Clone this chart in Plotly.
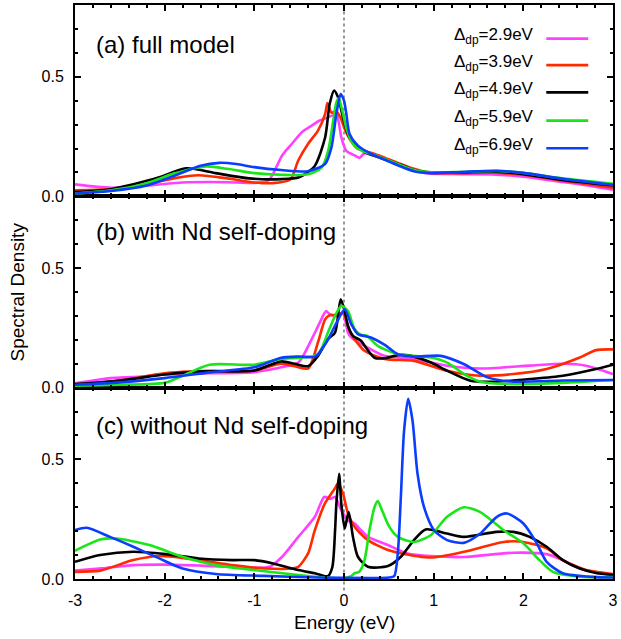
import plotly.graph_objects as go

# Charge-transfer energies for the five curves
DELTA_DP = ["2.9", "3.9", "4.9", "5.9", "6.9"]
COLORS = ["#FF40FF", "#FF2A00", "#000000", "#18E618", "#0B3DFF"]

ENERGY_TICKS = [-3, -2, -1, 0, 1, 2, 3]
ENERGY_TICK_TEXT = ["-3", "-2", "-1", "0", "1", "2", "3"]
DENSITY_TICKS = [0.0, 0.5]
DENSITY_TICK_TEXT = ["0.0", "0.5"]

PANEL_TITLES = ["(a) full model", "(b) with Nd self-doping", "(c) without Nd self-doping"]

# ---------------- (a) full model ----------------
full_e_29 = [-3.0, -2.6, -2.2, -1.8, -1.5, -1.2, -1.0, -0.84, -0.69, -0.58, -0.47, -0.36, -0.27, -0.18, -0.085,
             -0.03, 0.026, 0.118, 0.173, 0.22, 0.3, 0.41, 0.6, 0.78, 0.97, 1.3, 1.65, 2.0, 2.44, 2.7, 3.0]
full_s_29 = [0.05, 0.036, 0.045, 0.058, 0.06, 0.058, 0.056, 0.067, 0.171, 0.22, 0.268, 0.296, 0.317, 0.33, 0.342,
             0.247, 0.19, 0.171, 0.161, 0.178, 0.178, 0.162, 0.133, 0.107, 0.095, 0.093, 0.092, 0.082, 0.06, 0.046, 0.028]

full_e_39 = [-3.0, -2.6, -2.2, -1.9, -1.62, -1.3, -1.0, -0.8, -0.6, -0.51, -0.4, -0.29, -0.21, -0.185, -0.14,
             -0.085, -0.04, 0.01, 0.08, 0.15, 0.3, 0.41, 0.6, 0.78, 0.97, 1.3, 1.65, 2.0, 2.44, 3.0]
full_s_39 = [0.025, 0.03, 0.05, 0.075, 0.088, 0.075, 0.058, 0.055, 0.07, 0.15, 0.22, 0.275, 0.345, 0.39, 0.35,
             0.355, 0.33, 0.28, 0.23, 0.2, 0.182, 0.168, 0.14, 0.115, 0.098, 0.097, 0.099, 0.09, 0.065, 0.036]

full_e_49 = [-3.0, -2.6, -2.2, -2.06, -1.76, -1.43, -1.06, -0.7, -0.5, -0.33, -0.21, -0.16, -0.11, -0.066,
             -0.011, 0.044, 0.118, 0.23, 0.41, 0.6, 0.78, 0.97, 1.3, 1.65, 2.0, 2.44, 3.0]
full_s_49 = [0.018, 0.03, 0.065, 0.08, 0.117, 0.097, 0.075, 0.072, 0.08, 0.125, 0.247, 0.386, 0.442, 0.414,
             0.33, 0.26, 0.22, 0.185, 0.16, 0.136, 0.11, 0.1, 0.1, 0.104, 0.093, 0.068, 0.045]

full_e_59 = [-3.0, -2.6, -2.2, -1.9, -1.54, -1.3, -1.0, -0.7, -0.4, -0.25, -0.177, -0.12, -0.085, -0.059,
             -0.02, 0.03, 0.1, 0.2, 0.3, 0.41, 0.6, 0.78, 0.97, 1.3, 1.7, 2.0, 2.44, 3.0]
full_s_59 = [0.012, 0.025, 0.055, 0.095, 0.125, 0.115, 0.097, 0.09, 0.092, 0.12, 0.19, 0.317, 0.393, 0.41,
             0.36, 0.28, 0.22, 0.19, 0.178, 0.163, 0.135, 0.11, 0.1, 0.102, 0.106, 0.098, 0.075, 0.052]

full_e_69 = [-3.0, -2.6, -2.2, -1.9, -1.6, -1.39, -1.2, -1.0, -0.7, -0.4, -0.21, -0.14, -0.085, -0.037,
             0.0, 0.026, 0.063, 0.155, 0.3, 0.41, 0.6, 0.78, 0.97, 1.3, 1.7, 2.0, 2.44, 3.0]
full_s_69 = [0.012, 0.022, 0.045, 0.085, 0.128, 0.14, 0.135, 0.122, 0.11, 0.105, 0.136, 0.205, 0.345, 0.428,
             0.4, 0.345, 0.26, 0.212, 0.178, 0.16, 0.13, 0.105, 0.097, 0.102, 0.107, 0.098, 0.073, 0.048]

# ---------------- (b) with Nd self-doping ----------------
with_e_29 = [-3.0, -2.8, -2.6, -2.3, -2.0, -1.5, -1.0, -0.7, -0.51, -0.36, -0.27, -0.2, -0.16, -0.07, -0.01,
             0.044, 0.081, 0.155, 0.23, 0.45, 0.78, 1.15, 1.52, 2.07, 2.44, 2.7, 3.0]
with_s_29 = [0.018, 0.03, 0.04, 0.045, 0.055, 0.06, 0.065, 0.085, 0.105, 0.203, 0.272, 0.32, 0.307, 0.3, 0.31,
             0.23, 0.21, 0.19, 0.175, 0.133, 0.12, 0.092, 0.08, 0.092, 0.1, 0.092, 0.057]

with_e_39 = [-3.0, -2.5, -2.0, -1.5, -1.0, -0.7, -0.55, -0.4, -0.29, -0.21, -0.16, -0.07, -0.01, 0.044,
             0.081, 0.229, 0.45, 0.78, 1.15, 1.52, 1.89, 2.26, 2.63, 2.81, 3.0]
with_s_39 = [0.012, 0.03, 0.06, 0.07, 0.072, 0.1, 0.09, 0.08, 0.19, 0.286, 0.303, 0.303, 0.314, 0.26,
             0.224, 0.154, 0.12, 0.112, 0.071, 0.05, 0.057, 0.078, 0.126, 0.157, 0.16]

with_e_49 = [-3.0, -2.5, -2.0, -1.6, -1.0, -0.7, -0.55, -0.4, -0.29, -0.18, -0.1, -0.037, 0.008, 0.044,
             0.1, 0.19, 0.25, 0.34, 0.45, 0.6, 0.72, 0.97, 1.15, 1.41, 1.7, 2.07, 2.44, 2.81, 3.0]
with_s_49 = [0.015, 0.03, 0.055, 0.068, 0.072, 0.11, 0.1, 0.09, 0.133, 0.203, 0.23, 0.37, 0.32, 0.258,
             0.217, 0.196, 0.165, 0.125, 0.123, 0.136, 0.135, 0.105, 0.071, 0.029, 0.025, 0.036, 0.05, 0.078, 0.096]

with_e_59 = [-3.0, -2.5, -2.0, -1.8, -1.5, -1.0, -0.7, -0.5, -0.29, -0.18, -0.1, -0.03, 0.044, 0.118,
             0.19, 0.25, 0.376, 0.6, 0.97, 1.15, 1.34, 1.52, 1.89, 2.44, 3.0]
with_s_59 = [0.008, 0.012, 0.02, 0.05, 0.096, 0.096, 0.12, 0.125, 0.14, 0.23, 0.3, 0.342, 0.32, 0.245,
             0.22, 0.218, 0.175, 0.14, 0.126, 0.105, 0.057, 0.025, 0.015, 0.02, 0.032]

with_e_69 = [-3.0, -2.5, -2.0, -1.5, -1.0, -0.7, -0.5, -0.32, -0.18, -0.085, 0.008, 0.081, 0.155, 0.3,
             0.45, 0.6, 0.78, 1.08, 1.34, 1.6, 1.89, 2.44, 3.0]
with_s_69 = [0.012, 0.022, 0.04, 0.064, 0.085, 0.125, 0.13, 0.13, 0.2, 0.27, 0.328, 0.265, 0.224, 0.21,
             0.18, 0.14, 0.13, 0.133, 0.098, 0.043, 0.025, 0.03, 0.032]

# ---------------- (c) without Nd self-doping ----------------
without_e_29 = [-3.0, -2.7, -2.35, -2.0, -1.6, -1.25, -0.83, -0.69, -0.51, -0.325, -0.22, -0.15, -0.1, -0.03,
                0.044, 0.118, 0.19, 0.27, 0.49, 0.71, 0.97, 1.34, 1.89, 2.26, 2.44, 2.63, 3.0]
without_s_29 = [0.035, 0.045, 0.058, 0.06, 0.056, 0.051, 0.051, 0.093, 0.176, 0.26, 0.343, 0.335, 0.343, 0.2875,
                0.246, 0.232, 0.204, 0.176, 0.142, 0.107, 0.096, 0.092, 0.11, 0.104, 0.079, 0.044, 0.017]

without_e_39 = [-3.0, -2.72, -2.35, -2.06, -1.62, -1.25, -0.88, -0.58, -0.51, -0.4, -0.325, -0.214, -0.103,
                -0.066, -0.011, 0.044, 0.118, 0.266, 0.49, 0.6, 0.97, 1.34, 1.78, 2.0, 2.26, 2.44, 2.7, 3.0]
without_s_39 = [0.03, 0.035, 0.079, 0.096, 0.079, 0.058, 0.044, 0.044, 0.051, 0.107, 0.204, 0.315, 0.378,
                0.4, 0.357, 0.274, 0.218, 0.1625, 0.121, 0.11, 0.09, 0.114, 0.155, 0.155, 0.128, 0.079, 0.0375, 0.021]

without_e_49 = [-3.0, -2.72, -2.35, -1.99, -1.62, -1.25, -1.0, -0.79, -0.51, -0.325, -0.18, -0.13, -0.1,
                -0.085, -0.055, -0.03, 0.008, 0.052, 0.1, 0.155, 0.266, 0.49, 0.634, 0.78, 0.91, 1.15, 1.336,
                1.7, 1.89, 2.07, 2.26, 2.44, 2.63, 2.81, 3.0]
without_s_49 = [0.072, 0.1, 0.114, 0.104, 0.086, 0.079, 0.079, 0.065, 0.0375, 0.024, 0.012, 0.05, 0.2,
                0.315, 0.44, 0.315, 0.211, 0.28, 0.176, 0.093, 0.051, 0.054, 0.093, 0.1625, 0.207, 0.19, 0.176,
                0.197, 0.197, 0.176, 0.135, 0.079, 0.044, 0.025, 0.017]

without_e_59 = [-3.0, -2.72, -2.54, -2.17, -1.8, -1.43, -1.06, -0.51, -0.2, 0.0, 0.08, 0.118, 0.17, 0.229,
                0.284, 0.34, 0.376, 0.432, 0.506, 0.6, 0.78, 0.967, 1.15, 1.336, 1.52, 1.78, 2.0, 2.18, 2.33,
                2.63, 3.0]
without_s_59 = [0.118, 0.165, 0.169, 0.142, 0.093, 0.058, 0.04, 0.017, 0.006, 0.003, 0.012, 0.024, 0.03, 0.079,
                0.204, 0.3, 0.326, 0.28, 0.218, 0.176, 0.155, 0.183, 0.26, 0.3, 0.28, 0.204, 0.149, 0.079, 0.03,
                0.01, 0.008]

without_e_69 = [-3.0, -2.87, -2.61, -2.35, -2.06, -1.8, -1.43, -0.9, -0.3, 0.3, 0.5, 0.56, 0.6, 0.634, 0.67,
                0.716, 0.764, 0.82, 0.893, 1.004, 1.15, 1.336, 1.52, 1.705, 1.816, 2.0, 2.15, 2.26, 2.44, 2.81, 3.0]
without_s_69 = [0.204, 0.214, 0.176, 0.135, 0.086, 0.044, 0.021, 0.013, 0.006, 0.004, 0.006, 0.012, 0.107, 0.343,
                0.62, 0.753, 0.6625, 0.44, 0.3, 0.204, 0.1625, 0.151, 0.19, 0.26, 0.274, 0.232, 0.149, 0.072,
                0.024, 0.008, 0.006]

panels = [
    ("x3", "y3", [(full_e_29, full_s_29), (full_e_39, full_s_39), (full_e_49, full_s_49),
                  (full_e_59, full_s_59), (full_e_69, full_s_69)]),
    ("x2", "y2", [(with_e_29, with_s_29), (with_e_39, with_s_39), (with_e_49, with_s_49),
                  (with_e_59, with_s_59), (with_e_69, with_s_69)]),
    ("x", "y", [(without_e_29, without_s_29), (without_e_39, without_s_39), (without_e_49, without_s_49),
                (without_e_59, without_s_59), (without_e_69, without_s_69)]),
]

FONT = "Liberation Sans, Arial, Helvetica, sans-serif"

fig = go.Figure()
for xa, ya, curves in panels:
    for (e, s), color, d in zip(curves, COLORS, DELTA_DP):
        fig.add_trace(go.Scatter(
            x=e, y=s, xaxis=xa, yaxis=ya, mode="lines",
            line=dict(color=color, width=2.6, shape="spline", smoothing=0.7),
            name=f"Δdp={d}eV", showlegend=False, hoverinfo="skip", cliponaxis=True,
        ))

common_x = dict(
    range=[-3, 3], showgrid=False, zeroline=False,
    showline=True, linecolor="black", linewidth=2, mirror="ticks",
    ticks="inside", ticklen=6, tickwidth=1.5, tickcolor="black",
    tickmode="array", tickvals=ENERGY_TICKS, ticktext=ENERGY_TICK_TEXT,
    minor=dict(tickmode="linear", tick0=-3, dtick=0.2, ticks="inside", ticklen=3,
               tickwidth=1.5, tickcolor="black"),
    tickfont=dict(family=FONT, size=16, color="black"),
)
common_y = dict(
    range=[0, 0.8], showgrid=False, zeroline=False,
    showline=True, linecolor="black", linewidth=2, mirror="ticks",
    ticks="inside", ticklen=6, tickwidth=1.5, tickcolor="black",
    tickmode="array", tickvals=DENSITY_TICKS, ticktext=DENSITY_TICK_TEXT,
    minor=dict(tickmode="linear", tick0=0, dtick=0.1, ticks="inside", ticklen=3,
               tickwidth=1.5, tickcolor="black"),
    tickfont=dict(family=FONT, size=16, color="black"),
    ticklabelstandoff=6,
)

third = 1.0 / 3.0
fig.update_layout(
    width=621, height=639,
    margin=dict(l=75, r=4, t=3, b=60),
    paper_bgcolor="white", plot_bgcolor="white",
    showlegend=False,
    xaxis=dict(common_x, anchor="y", domain=[0, 1], ticklabelstandoff=6),
    xaxis2=dict(common_x, anchor="y2", domain=[0, 1], matches="x", showticklabels=False),
    xaxis3=dict(common_x, anchor="y3", domain=[0, 1], matches="x", showticklabels=False),
    yaxis=dict(common_y, anchor="x", domain=[0, third]),
    yaxis2=dict(common_y, anchor="x2", domain=[third, 2 * third]),
    yaxis3=dict(common_y, anchor="x3", domain=[2 * third, 1]),
)

# Fermi level marker through all panels
fig.add_shape(type="line", xref="x", yref="paper", x0=0, x1=0, y0=-0.02, y1=1.0,
              line=dict(color="#555555", width=1.2, dash="dot"), layer="below")

# Panel titles
for title, ypos in zip(PANEL_TITLES, [0.9306, 0.606, 0.267]):
    fig.add_annotation(text=title, xref="paper", yref="paper", x=0.036, y=ypos,
                       xanchor="left", yanchor="middle", showarrow=False,
                       font=dict(family=FONT, size=24, color="black"))

# Legend: label followed by a line sample
legend_y = [0.9415, 0.8953, 0.8477, 0.7986, 0.7505]
for d, color, ly in zip(DELTA_DP, COLORS, legend_y):
    fig.add_annotation(text=f"Δ<sub>dp</sub>={d}eV", xref="paper", yref="paper",
                       x=0.856, y=ly + 0.004, xanchor="right", yanchor="middle", showarrow=False,
                       font=dict(family=FONT, size=17, color="black"))
    fig.add_shape(type="line", xref="paper", yref="paper", x0=0.876, x1=0.954, y0=ly, y1=ly,
                  line=dict(color=color, width=2.6))

# Axis titles
fig.add_annotation(text="Energy (eV)", xref="paper", yref="paper", x=0.5, y=-0.0764,
                   xanchor="center", yanchor="middle", showarrow=False,
                   font=dict(family=FONT, size=19, color="black"))
fig.add_annotation(text="Spectral Density", xref="paper", yref="paper", x=-0.107, y=0.5,
                   xanchor="center", yanchor="middle", textangle=-90, showarrow=False,
                   font=dict(family=FONT, size=19, color="black"))

fig.write_html("out.html")
